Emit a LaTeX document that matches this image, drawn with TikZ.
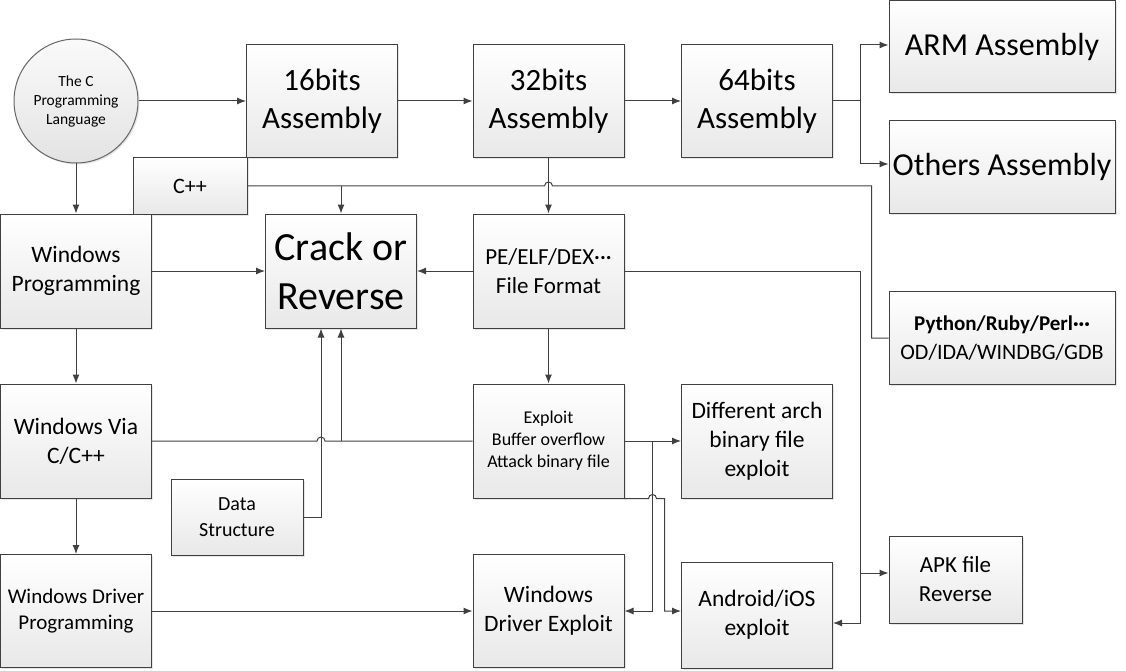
\documentclass[tikz,border=0pt]{standalone}
\usepackage{fontspec}
\setmainfont{Carlito}
\usetikzlibrary{arrows.meta,shadows}

\begin{document}
\begin{tikzpicture}[x=1pt,y=-1pt,line width=1pt,black!75,>={Latex[length=9pt,width=7pt]}]
    \tikzstyle{box}=[rectangle,draw=black!75,text=black,top color=white,bottom color=black!9,inner sep=1pt,align=center,
        drop shadow={shadow xshift=1.5pt,shadow yshift=-1.5pt,opacity=.2}]
    \tikzstyle{circ}=[circle,draw=black!60,text=black,top color=black!2,bottom color=black!11,inner sep=1pt,align=center,
        minimum size=124,font=\fontsize{15.5}{19}\selectfont,drop shadow={shadow xshift=1.5pt,shadow yshift=-1.5pt,opacity=.2}]
    \tikzstyle{asm}=[box,minimum width=151,minimum height=113,font=\fontsize{31}{38}\selectfont]
    \tikzstyle{arch}=[box,minimum width=226,minimum height=92,font=\fontsize{32}{38}\selectfont]
    \tikzstyle{block}=[box,minimum width=151,minimum height=114,font=\fontsize{23.5}{29}\selectfont]

    \useasboundingbox (0,0) rectangle (1126,671);

    % top row
    \node[circ] (cprog) at (76,101) {The C\\Programming\\Language};
    \foreach \name/\x/\bits in {asm16/322/16, asm32/548.5/32, asm64/757/64}
        \node[asm] (\name) at (\x,101) {\bits bits\\Assembly};
    \node[arch] (arm) at (1002,47) {ARM Assembly};
    \node[arch] (others) at (1002,167) {Others Assembly};
    \node[box,minimum width=114,minimum height=56,font=\fontsize{22}{27}\selectfont] (cpp) at (190,186) {C++};

    % middle
    \node[block] (winprog) at (76,271) {Windows\\Programming};
    \node[block,font=\fontsize{40}{49}\selectfont] (crack) at (341,271) {Crack or\\Reverse};
    \node[block,font=\fontsize{23}{29}\selectfont] (pe) at (548.5,271) {PE/ELF/DEX···\\File Format};
    \node[arch,minimum height=93,font=\fontsize{22}{29}\selectfont] (python) at (1002,338)
        {{\fontsize{21}{29}\selectfont\bfseries Python/Ruby/Perl···}\\OD/IDA/WINDBG/GDB};
    \node[block] (winvia) at (76,441) {Windows Via\\C/C++};
    \node[block,font=\fontsize{18}{22}\selectfont] (exploit) at (548.5,441) {Exploit\\Buffer overflow\\Attack binary file};
    \node[block] (diffarch) at (757,441) {Different arch\\binary file\\exploit};
    \node[box,minimum width=132,minimum height=76,font=\fontsize{20}{26}\selectfont] (datastruct) at (237,517) {Data\\Structure};

    % bottom row
    \node[block,minimum height=113,font=\fontsize{21}{26}\selectfont] (windrv) at (76,611) {Windows Driver\\Programming};
    \node[block,minimum height=113] (drvexp) at (548.5,611) {Windows\\Driver Exploit};
    \node[block,minimum height=106] (mobile) at (757,615) {Android/iOS\\exploit};
    \node[box,minimum width=133,minimum height=87,font=\fontsize{23}{29}\selectfont] (apk) at (955.5,579.5) {APK file\\Reverse};

    % straight arrows
    \foreach \from/\to in {cprog/winprog, winprog/winvia, winvia/windrv, cprog/asm16, asm16/asm32, asm32/asm64,
        asm32/pe, pe/exploit, winprog/crack, pe/crack, exploit/diffarch, windrv/drvexp}
        \draw[->] (\from) -- (\to);

    % split points
    \coordinate (asmsplit) at ([xshift=27pt]asm64.east);
    \coordinate (pesplit) at ([xshift=236pt]pe.east);
    \coordinate (expsplit) at ([xshift=28pt]exploit.east);

    \draw (asm64) -- (asmsplit);
    \draw[->] (asmsplit) |- ([yshift=2pt]arm.west);
    \draw[->] (asmsplit) |- ([yshift=3pt]others.west);

    \draw (cpp) -- ([xshift=-4pt]cpp.east -| asm32.south) arc[start angle=180,end angle=0,radius=4pt]
        -| ([xshift=-17pt]python.west) -- (python.west);
    \draw[->] (cpp.east -| crack.north) -- (crack);

    \draw (pe) -- (pesplit);
    \draw[->] (pesplit) |- ([yshift=6.5pt]apk.west);
    \draw[->] (pesplit) |- ([yshift=-8pt]mobile.east);

    \draw (winvia) -- ([xshift=-24pt]winvia.east -| crack.south) arc[start angle=180,end angle=0,radius=4pt] -- (exploit.west);
    \draw[->] (winvia.east -| crack.south) -- (crack.south);
    \draw[->] (datastruct) -| ([xshift=-20pt]crack.south);

    \draw[->] (expsplit) |- (drvexp);
    \draw[->] (exploit.south east) -- ([xshift=24pt]exploit.south east) arc[start angle=180,end angle=0,radius=4pt]
        -- ([xshift=40pt]exploit.south east) |- ([yshift=4pt]mobile.west);
\end{tikzpicture}
\end{document}
